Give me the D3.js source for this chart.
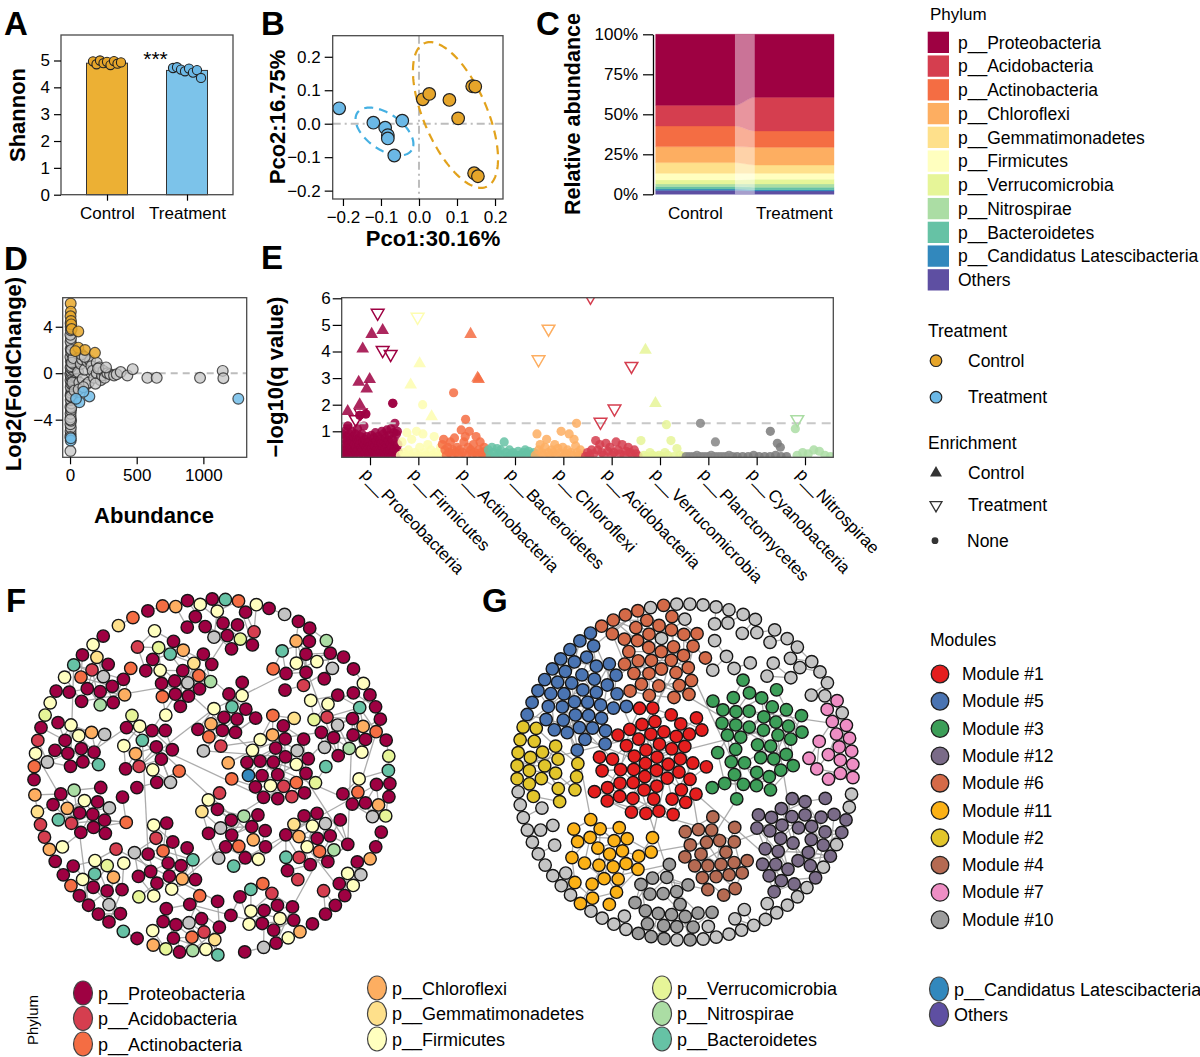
<!DOCTYPE html>
<html>
<head>
<meta charset="utf-8">
<script src="https://cdn.jsdelivr.net/npm/d3@7/dist/d3.min.js"></script>
<style>
  body { margin: 0; background: #fff; }
</style>
</head>
<body>
<svg id="fig" width="1200" height="1057"></svg>
<script>
// ---------------- data ----------------
var groups = ["Control", "Treatment"];
var phyla = ["p__Proteobacteria", "p__Acidobacteria", "p__Actinobacteria", "p__Chloroflexi",
  "p__Gemmatimonadetes", "p__Firmicutes", "p__Verrucomicrobia", "p__Nitrospirae",
  "p__Bacteroidetes", "p__Candidatus Latescibacteria", "Others"];

// A: Shannon index
var shannonMean = [4.9, 4.63];
var shannonControl = [4.97, 4.86, 5.0, 4.9, 4.95, 4.83, 4.98, 4.88, 4.93];
var shannonTreatment = [4.72, 4.75, 4.66, 4.6, 4.7, 4.55, 4.64, 4.35];

// B: PCoA scores
var pcoControl = [[0.01, 0.073], [0.027, 0.089], [0.08, 0.071], [0.103, 0.016],
  [0.14, 0.112], [0.148, 0.111], [0.145, -0.148], [0.155, -0.157]];
var pcoTreatment = [[-0.21, 0.046], [-0.12, 0.003], [-0.089, -0.012], [-0.082, -0.034],
  [-0.082, -0.044], [-0.065, -0.095], [-0.044, 0.009]];
// confidence ellipses: centre and the two semi-axis vectors (data units)
var ellipseControl = {c: [0.096, 0.026], a: [-0.0816, 0.2146], b: [0.0766, 0.0373]};
var ellipseTreatment = {c: [-0.0908, -0.0233], a: [0.0711, -0.0564], b: [-0.0271, -0.0439]};

// C: relative abundance (%), same order as phyla
var compControl = [44.4, 12.9, 12.9, 10.0, 6.7, 4.1, 2.5, 1.7, 1.5, 0.8, 2.5];
var compTreatment = [39.4, 21.0, 10.2, 11.1, 5.2, 3.7, 2.9, 2.1, 1.5, 0.8, 2.1];

// D: MA plot [abundance, log2FC]
var maControl = [[5, 6.0], [6, 5.3], [4, 4.9], [7, 4.5], [9, 4.2], [12, 3.8], [62, 3.6], [62, 2.2], [112, 2.0], [187, 1.75], [40, 1.9]];
var maTreatment = [[5, -5.8], [6, -5.6], [70, -2.5], [145, -2.0], [100, -1.6], [45, -2.2], [1262, -2.2]];
var maNone = [[3, -6.7], [5, -5.3], [4, -5.0], [6, -4.7], [3, -4.4], [8, -4.1], [5, -3.8], [4, -3.5], [7, -3.2],
  [3, -2.9], [10, -2.6], [5, -2.3], [15, -2.1], [4, -1.9], [8, -1.7], [12, -1.5], [20, -1.3], [5, -1.2],
  [25, -1.0], [9, -0.9], [30, -0.7], [4, -0.6], [15, -0.5], [40, -0.4], [7, -0.3], [22, -0.2], [3, -0.1],
  [12, 0.0], [35, 0.1], [6, 0.2], [18, 0.3], [45, 0.4], [4, 0.5], [10, 0.6], [28, 0.8], [6, 1.0], [14, 1.2],
  [3, 1.4], [20, 1.6], [8, 1.8], [5, 2.1], [12, 2.4], [4, 2.7], [7, 3.0], [3, 3.3], [6, 3.7], [5, 4.0],
  [4, 4.3], [9, -3.0], [6, -2.0], [18, -0.8], [14, 0.9], [25, 1.3], [33, -1.5], [10, 2.0], [2, -4.0], [2, -5.5],
  [60, 0.1], [70, -0.8], [80, 0.8], [90, 1.2], [95, -0.5], [110, 0.3], [120, -1.0], [130, 1.0], [140, -0.8],
  [150, 1.1], [160, 0.6], [170, 0.2], [180, -0.4], [200, 0.9], [200, 0.0], [220, 0.5], [230, -0.6], [240, -0.2],
  [250, 0.2], [260, -0.4], [280, 0.0], [300, -0.1], [330, -0.2], [350, -0.1], [380, 0.1], [430, -0.2],
  [470, 0.35], [580, -0.4], [650, -0.4], [975, -0.4], [1145, 0.2], [1150, -0.43], [65, -1.4], [100, -1.2],
  [85, 1.6], [110, 1.4], [190, -0.9], [210, 0.4], [270, 0.5]];

// E: differential abundance, -log10(q) by OTU rank
var daPhyla = ["p__Proteobacteria", "p__Firmicutes", "p__Actinobacteria", "p__Bacteroidetes", "p__Chloroflexi",
  "p__Acidobacteria", "p__Verrucomicrobia", "p__Planctomycetes", "p__Cyanobacteria", "p__Nitrospirae"];
var daSpans = [[0, 57], [58, 103], [100, 146], [146, 195], [193, 243], [243, 298], [298, 343], [343, 393], [393, 448], [453, 492]];
var daSig = [
  [0, 36, 5.45, "Treatment"], [0, 41, 4.8, "Control"], [0, 30, 4.65, "Control"], [0, 21, 4.1, "Control"],
  [0, 41, 4.05, "Treatment"], [0, 49, 3.9, "Treatment"], [0, 28, 2.95, "Control"], [0, 17, 2.85, "Control"],
  [0, 25, 2.6, "Control"], [0, 18, 2.0, "Control"], [0, 6, 1.75, "Control"], [0, 19, 1.7, "Treatment"],
  [0, 14, 1.45, "Treatment"], [0, 51, 2.05, "None"], [0, 18, 1.6, "None"], [0, 24, 1.65, "None"], [0, 6, 1.2, "None"],
  [1, 76, 5.3, "Treatment"], [1, 78, 3.55, "Control"], [1, 69, 2.75, "Control"], [1, 90, 1.55, "Control"], [1, 81, 2.0, "None"],
  [2, 129, 4.65, "Control"], [2, 136, 3.0, "Control"], [2, 137, 2.95, "Control"], [2, 112, 2.45, "None"], [2, 124, 1.45, "None"],
  [4, 207, 4.85, "Treatment"], [4, 197, 3.7, "Treatment"], [4, 235, 1.3, "None"],
  [5, 249, 6.05, "Treatment"], [5, 290, 3.45, "Treatment"], [5, 273, 1.85, "Treatment"], [5, 259, 1.35, "Treatment"],
  [6, 304, 4.05, "Control"], [6, 314, 2.05, "Control"], [6, 325, 1.25, "None"],
  [7, 359, 1.3, "None"], [7, 374, 0.6, "None"],
  [8, 429, 1.0, "None"], [8, 436, 0.55, "None"], [8, 439, 0.4, "None"],
  [9, 456, 1.45, "Treatment"], [9, 454, 1.1, "None"]];
var bgProteobacteria = [0.3, 0.9, 0.1, 0.5, 0.2, 0.7, 1.0, 0.4, 0.1, 0.8, 0.3, 0.6, 1.2, 0.2, 0.5, 0.9, 0.1, 0.4, 0.7, 0.3,
  1.0, 0.2, 0.6, 0.8, 0.1, 0.5, 0.3, 0.9, 0.4, 0.2, 0.7, 1.1, 0.3, 0.6, 0.1, 0.5, 1.6, 0.8, 0.2, 0.4, 0.9, 0.3, 0.6,
  0.1, 1.2, 0.5, 0.7, 0.2, 1.65, 0.4, 0.8, 0.3, 0.6, 0.1, 0.05, 0.6, 0.2, 0.45, 0.15, 0.85, 0.35, 0.05, 0.55, 0.25,
  0.75, 0.1, 0.45, 0.95, 0.2, 0.65, 0.05, 0.35, 0.8, 0.15, 0.5, 0.3, 0.05, 0.7, 0.25, 0.55, 1.0, 0.1, 0.4, 0.9, 0.2,
  0.6, 0.05, 0.35, 0.75, 0.15, 1.05, 0.45, 0.25, 0.65, 0.1, 0.85, 0.3, 0.5, 1.1, 0.05, 0.4, 0.7, 2.05, 0.2, 0.95,
  0.35, 1.3, 0.1, 0.6, 0.9, 0.3, 1.0, 0.5, 0.2];
var bgFirmicutes = [0.1, 0.6, 0.2, 0.05, 0.95, 0.3, 0.1, 0.7, 0.05, 0.2, 1.0, 0.1, 0.4, 0.05, 0.9, 0.2, 0.1, 0.5, 0.05, 0.3, 0.1, 0.8, 0.2, 0.05, 0.1, 0.4, 0.05, 0.2];
var bgActinobacteria = [0.5, 0.7, 0.3, 0.1, 0.4, 0.2, 0.6, 0.1, 0.3, 0.75, 0.2, 0.4, 0.1, 0.3, 1.05, 0.2, 0.6, 0.8, 0.1, 0.4, 1.0, 0.3, 0.15, 0.5, 0.2, 0.8, 0.1, 0.3, 0.6, 0.2, 0.1, 0.4, 0.25, 0.1];
var bgBacteroidetes = [0.3, 0.1, 0.4, 0.2, 0.05, 0.35, 0.15, 0.3, 0.1, 0.6, 0.2, 0.05, 0.3, 0.1, 0.2, 0.05, 0.1, 0.25, 0.1, 0.05, 0.2, 0.3, 0.15, 0.25, 0.1, 0.05, 0.2, 0.1];
var bgChloroflexi = [0.1, 0.9, 0.3, 0.5, 0.2, 0.1, 0.4, 0.7, 0.2, 0.1, 0.3, 0.2, 0.5, 0.1, 0.35, 0.2, 1.0, 0.4, 0.1, 0.15, 0.3, 0.9, 0.2, 0.1, 0.7, 0.45, 0.2, 0.1, 0.3, 0.1, 0.05];
var bgAcidobacteria = [0.05, 0.2, 0.1, 0.3, 0.15, 0.65, 0.3, 0.5, 0.2, 0.1, 0.55, 0.25, 0.4, 0.1, 0.2, 0.6, 0.3, 0.15, 0.5, 0.1, 0.25, 0.4, 0.2, 0.1, 0.3, 0.15, 0.05];
var bgVerrucomicrobia = [0.65, 0.1, 0.05, 0.2, 0.1, 0.05, 0.1, 0.05, 0.2, 0.1, 0.65, 0.05, 0.35, 0.1, 0.05];
var bgPlanctomycetes = [0.05, 0.05, 0.05, 0.1, 0.05, 0.05, 0.05, 0.1, 0.05, 0.05, 0.05, 0.05, 0.1, 0.05];
var bgCyanobacteria = [0.05, 0.05, 0.05, 0.1, 0.05, 0.05, 0.05, 0.1, 0.05, 0.05];
var bgNitrospirae = [0.1, 0.2, 0.15, 0.3, 0.25, 0.1, 0.05];
var daBackground = [bgProteobacteria, bgFirmicutes, bgActinobacteria, bgBacteroidetes, bgChloroflexi,
  bgAcidobacteria, bgVerrucomicrobia, bgPlanctomycetes, bgCyanobacteria, bgNitrospirae];

// F: co-occurrence network, node counts by phylum (+ unassigned) and component sizes
var netFCounts = [190, 21, 24, 21, 8, 48, 11, 8, 18, 1, 0, 22];
var netFClusterSizes = [20, 20, 20, 22, 18, 20, 18, 20, 20, 32, 22, 16, 24, 18, 20, 12, 10, 16, 2, 2, 2, 2, 2, 2, 2, 2, 2, 2, 2, 2];
var netFCross = [[0, 12], [12, 17], [17, 9], [9, 10], [10, 11], [9, 14], [14, 16], [8, 9], [8, 7], [7, 5], [5, 6],
  [6, 14], [13, 2], [13, 17], [3, 4], [4, 5], [1, 2], [1, 12], [13, 8], [8, 15], [10, 15], [9, 13], [17, 11],
  [9, 12], [10, 17], [14, 8], [7, 13], [2, 3], [9, 15], [10, 14], [12, 13]];

// G: modules
var moduleNames = ["Module #1", "Module #5", "Module #3", "Module #12", "Module #6", "Module #11", "Module #2", "Module #4", "Module #7", "Module #10"];
var moduleSizes = [55, 46, 44, 36, 40, 28, 22, 24, 17, 24];
var minorModuleSizes = [2, 2, 2, 3, 2, 2, 2, 3, 2, 2, 2, 2, 3, 2, 3, 2, 3, 3, 2, 3, 2, 2, 2, 2, 3, 2, 3, 2, 2, 2, 2, 2];
var netGCross = [[0, 1], [0, 2], [0, 4], [0, 5], [0, 6], [0, 7], [1, 4], [1, 6], [1, 5], [2, 4], [2, 3], [3, 7],
  [5, 9], [7, 9], [2, 8], [0, 3], [0, 9], [1, 0], [4, 2], [5, 7], [0, 4], [1, 6], [0, 7], [2, 7], [0, 1], [4, 1]];

// ---------------- styles / layout ----------------
var FONT = "'Liberation Sans', Arial, Helvetica, sans-serif";
var groupFill = ["#ecb034", "#7cc3ea"];
var groupDot = ["#e6a52a", "#6bb8e6"];
var ellipseStroke = ["#e2a21c", "#45b0e2"];
var phylumColors = ["#9e0142", "#d53e4f", "#f46d43", "#fdae61", "#fee08b", "#ffffbf", "#e6f598", "#abdda4", "#66c2a5", "#3288bd", "#5e4fa2", "#c4c4c4"];
var daColors = ["#9e0142", "#fdfdb0", "#f46d43", "#66c2a5", "#fdae61", "#d53e4f", "#e6f598", "#858585", "#7a7a7a", "#abdda4"];
var moduleColors = ["#e41e1e", "#4a74b2", "#3c9e58", "#7a6b88", "#d46a48", "#fbb116", "#e2c52b", "#b56a52", "#ee8ec4", "#9c9c9c"];
var minorColor = "#c4c4c4";

var svg = d3.select("#fig").attr("font-family", FONT);

function txt(s, x, y, size, opt) {
  opt = opt || {};
  var t = svg.append("text").attr("font-size", size).attr("fill", "#000").text(s);
  if (opt.rot) t.attr("transform", "translate(" + x + "," + y + ") rotate(" + opt.rot + ")");
  else t.attr("x", x).attr("y", y);
  if (opt.bold) t.attr("font-weight", "bold");
  if (opt.anchor) t.attr("text-anchor", opt.anchor);
  return t;
}
function styleAxis(g, size) {
  g.attr("font-family", FONT).attr("font-size", size);
  g.selectAll(".tick line").attr("stroke", "#000").attr("stroke-width", 1.2);
  g.selectAll(".tick text").attr("fill", "#000");
  return g;
}
function frame(x0, y0, x1, y1) {
  svg.append("rect").attr("x", x0).attr("y", y0).attr("width", x1 - x0).attr("height", y1 - y0)
    .attr("fill", "none").attr("stroke", "#4a4a4a").attr("stroke-width", 1.3);
}

// panel letters
[["A", 4, 35], ["B", 261, 35], ["C", 536, 35], ["D", 4, 270], ["E", 261, 269], ["F", 6, 612], ["G", 482, 612]].forEach(function(p) {
  txt(p[0], p[1], p[2], 33, {bold: true});
});

// ---------------- A ----------------
var xA = d3.scalePoint().domain(groups).range([61, 233]).padding(0.575);
var yA = d3.scaleLinear().domain([0, 5.95]).range([194.7, 35]);
svg.append("g").selectAll("rect").data(groups).enter().append("rect")
  .attr("x", function(d) { return xA(d) - 20.5; })
  .attr("width", 41)
  .attr("y", function(d, i) { return yA(shannonMean[i]); })
  .attr("height", function(d, i) { return yA(0) - yA(shannonMean[i]); })
  .attr("fill", function(d, i) { return groupFill[i]; })
  .attr("stroke", "#333").attr("stroke-width", 1);
[shannonControl, shannonTreatment].forEach(function(vals, gi) {
  svg.append("g").selectAll("circle").data(vals).enter().append("circle")
    .attr("cx", function(d, i) { return xA(groups[gi]) + (i / (vals.length - 1) - 0.5) * 28; })
    .attr("cy", function(d) { return yA(d); })
    .attr("r", 4.6)
    .attr("fill", groupDot[gi]).attr("stroke", "#222").attr("stroke-width", 1.1);
});
frame(61, 35, 233, 194.7);
styleAxis(svg.append("g").attr("transform", "translate(61,0)")
  .call(d3.axisLeft(yA).tickValues([0, 1, 2, 3, 4, 5]).tickFormat(d3.format("d")).tickSize(7).tickSizeOuter(0).tickPadding(4)), 17)
  .select(".domain").remove();
styleAxis(svg.append("g").attr("transform", "translate(0,194.7)")
  .call(d3.axisBottom(xA).tickSize(6).tickSizeOuter(0).tickPadding(6)), 17)
  .select(".domain").remove();
txt("***", 155.5, 66, 21, {anchor: "middle"});
txt("Shannon", 25, 115, 22, {bold: true, rot: -90, anchor: "middle"});

// ---------------- B ----------------
var xB = d3.scaleLinear().domain([-0.227, 0.221]).range([332.7, 503]);
var yB = d3.scaleLinear().domain([-0.225, 0.263]).range([199, 35.7]);
svg.append("line").attr("x1", xB(0)).attr("x2", xB(0)).attr("y1", 35.7).attr("y2", 199)
  .attr("stroke", "#bdbdbd").attr("stroke-width", 2).attr("stroke-dasharray", "8,4,2,4");
svg.append("line").attr("x1", 332.7).attr("x2", 503).attr("y1", yB(0)).attr("y2", yB(0))
  .attr("stroke", "#bdbdbd").attr("stroke-width", 2).attr("stroke-dasharray", "8,4,2,4");
var ellT = d3.range(0, 2 * Math.PI + 0.001, Math.PI / 72);
[ellipseControl, ellipseTreatment].forEach(function(e, gi) {
  var line = d3.line()
    .x(function(t) { return xB(e.c[0] + Math.cos(t) * e.a[0] + Math.sin(t) * e.b[0]); })
    .y(function(t) { return yB(e.c[1] + Math.cos(t) * e.a[1] + Math.sin(t) * e.b[1]); });
  svg.append("path").attr("d", line(ellT)).attr("fill", "none")
    .attr("stroke", ellipseStroke[gi]).attr("stroke-width", 2.2).attr("stroke-dasharray", "9,6");
});
[pcoControl, pcoTreatment].forEach(function(pts, gi) {
  svg.append("g").selectAll("circle").data(pts).enter().append("circle")
    .attr("cx", function(d) { return xB(d[0]); })
    .attr("cy", function(d) { return yB(d[1]); })
    .attr("r", 6.3)
    .attr("fill", groupDot[gi]).attr("stroke", "#222").attr("stroke-width", 1.2);
});
frame(332.7, 35.7, 503, 199);
styleAxis(svg.append("g").attr("transform", "translate(332.7,0)")
  .call(d3.axisLeft(yB).tickValues([-0.2, -0.1, 0, 0.1, 0.2]).tickFormat(d3.format(".1f")).tickSize(8).tickSizeOuter(0).tickPadding(4)), 17)
  .select(".domain").remove();
styleAxis(svg.append("g").attr("transform", "translate(0,199)")
  .call(d3.axisBottom(xB).tickValues([-0.2, -0.1, 0, 0.1, 0.2]).tickFormat(d3.format(".1f")).tickSize(7).tickSizeOuter(0).tickPadding(5)), 17)
  .select(".domain").remove();
txt("Pco2:16.75%", 285, 117, 22, {bold: true, rot: -90, anchor: "middle"});
txt("Pco1:30.16%", 433, 246, 22, {bold: true, anchor: "middle"});

// ---------------- C ----------------
var rowsC = groups.map(function(g, gi) {
  var o = {group: g};
  phyla.forEach(function(p, pi) { o[p] = (gi === 0 ? compControl : compTreatment)[pi] / 100; });
  return o;
});
var stackC = d3.stack().keys(phyla.slice().reverse())(rowsC);
var xC = d3.scaleBand().domain(groups).range([655.7, 834]).paddingInner(0.2).paddingOuter(0);
var yC = d3.scaleLinear().domain([0, 1]).range([194.3, 34.3]);
var areaC = d3.area().x(function(d) { return d.x; })
  .y0(function(d) { return yC(d.y0); }).y1(function(d) { return yC(d.y1); })
  .curve(d3.curveMonotoneX);
stackC.forEach(function(layer) {
  var pts = [];
  layer.forEach(function(seg, gi) {
    var x0 = xC(groups[gi]);
    pts.push({x: x0, y0: seg[0], y1: seg[1]});
    pts.push({x: x0 + xC.bandwidth(), y0: seg[0], y1: seg[1]});
  });
  var col = phylumColors[phyla.indexOf(layer.key)];
  svg.append("path").attr("d", areaC(pts)).attr("fill", col).attr("stroke", col).attr("stroke-width", 0.4);
});
svg.append("rect").attr("x", xC("Control") + xC.bandwidth()).attr("y", 34.3)
  .attr("width", xC("Treatment") - xC("Control") - xC.bandwidth()).attr("height", 160)
  .attr("fill", "#fff").attr("opacity", 0.45);
var axC = styleAxis(svg.append("g").attr("transform", "translate(653,0)")
  .call(d3.axisLeft(yC).tickValues([0, 0.25, 0.5, 0.75, 1]).tickFormat(d3.format(".0%")).tickSize(10).tickSizeOuter(0).tickPadding(5)), 17);
axC.select(".domain").attr("stroke", "#000").attr("stroke-width", 1.3);
var axC2 = styleAxis(svg.append("g").attr("transform", "translate(0,194.3)")
  .call(d3.axisBottom(xC).tickSize(0).tickPadding(13)), 17);
axC2.select(".domain").remove();
txt("Relative abundance", 580, 114, 21.5, {bold: true, rot: -90, anchor: "middle"});

// ---------------- legend: Phylum squares ----------------
txt("Phylum", 930, 20, 17);
phyla.forEach(function(p, i) {
  var y = 31.7 + 23.75 * i;
  svg.append("rect").attr("x", 927.7).attr("y", y).attr("width", 21.3).attr("height", 21.3).attr("fill", phylumColors[i]);
  txt(p, 958, y + 17, 17.5);
});

// legend: Treatment / Enrichment
txt("Treatment", 928, 337, 17.5);
groups.forEach(function(g, i) {
  var y = 360.7 + 36.5 * i;
  svg.append("circle").attr("cx", 936).attr("cy", y).attr("r", 5.8).attr("fill", groupDot[i]).attr("stroke", "#222").attr("stroke-width", 1.2);
  txt(g, 968, y + 6, 17.5);
});
txt("Enrichment", 928, 449, 17.5);
var triSym = d3.symbol().type(d3.symbolTriangle).size(62);
svg.append("path").attr("d", triSym()).attr("transform", "translate(936,473)").attr("fill", "#333");
txt("Control", 968, 479, 17.5);
svg.append("path").attr("d", triSym()).attr("transform", "translate(936,505) rotate(180)").attr("fill", "none").attr("stroke", "#333").attr("stroke-width", 1.3);
txt("Treatment", 968, 511, 17.5);
svg.append("circle").attr("cx", 935).attr("cy", 540.7).attr("r", 3.4).attr("fill", "#333");
txt("None", 967, 547, 17.5);

// ---------------- D ----------------
var xD = d3.scaleLinear().domain([-55, 1325]).range([62.7, 246.7]);
var yD = d3.scaleLinear().domain([-7.24, 6.5]).range([457.3, 297.7]);
svg.append("line").attr("x1", 62.7).attr("x2", 246.7).attr("y1", yD(0)).attr("y2", yD(0))
  .attr("stroke", "#bdbdbd").attr("stroke-width", 2).attr("stroke-dasharray", "7,5");
[[maNone, "#c4c4c4", 0.75], [maControl, "#e9a82a", 0.85], [maTreatment, "#72bde9", 0.85]].forEach(function(s) {
  svg.append("g").selectAll("circle").data(s[0]).enter().append("circle")
    .attr("cx", function(d) { return xD(d[0]); })
    .attr("cy", function(d) { return yD(d[1]); })
    .attr("r", 5.4).attr("fill", s[1]).attr("fill-opacity", s[2])
    .attr("stroke", "#2a2a2a").attr("stroke-opacity", 0.8).attr("stroke-width", 1.2);
});
frame(62.7, 297.7, 246.7, 457.3);
styleAxis(svg.append("g").attr("transform", "translate(62.7,0)")
  .call(d3.axisLeft(yD).tickValues([-4, 0, 4]).tickFormat(d3.format("d")).tickSize(7).tickSizeOuter(0).tickPadding(3)), 17)
  .select(".domain").remove();
styleAxis(svg.append("g").attr("transform", "translate(0,457.3)")
  .call(d3.axisBottom(xD).tickValues([0, 500, 1000]).tickFormat(d3.format("d")).tickSize(7).tickSizeOuter(0).tickPadding(5)), 17)
  .select(".domain").remove();
txt("Log2(FoldChange)", 21, 374, 22, {bold: true, rot: -90, anchor: "middle"});
txt("Abundance", 154, 523, 22, {bold: true, anchor: "middle"});

// ---------------- E ----------------
var xE = d3.scaleLinear().domain([0, 492]).range([341.7, 833.3]);
var yE = d3.scaleLinear().domain([0, 6]).range([457.9, 298.3]);
var xETicks = d3.scalePoint().domain(daPhyla).range([370, 805]);
svg.append("clipPath").attr("id", "clipE").append("rect").attr("x", 341.7).attr("y", 297.7).attr("width", 491.6).attr("height", 159.6);
var gE = svg.append("g").attr("clip-path", "url(#clipE)");
daBackground.forEach(function(vals, pi) {
  var sp = daSpans[pi];
  gE.append("g").selectAll("circle").data(vals).enter().append("circle")
    .attr("cx", function(d, j) { return xE(sp[0] + (j + 0.5) / vals.length * (sp[1] - sp[0])); })
    .attr("cy", function(d) { return yE(d); })
    .attr("r", 4.6).attr("fill", daColors[pi]).attr("fill-opacity", 0.85);
});
gE.append("line").attr("x1", 341.7).attr("x2", 833.3).attr("y1", yE(-Math.log10(0.05))).attr("y2", yE(-Math.log10(0.05)))
  .attr("stroke", "#c8c8c8").attr("stroke-width", 2).attr("stroke-dasharray", "9,6");
var triE = d3.symbol().type(d3.symbolTriangle).size(70);
daSig.forEach(function(d) {
  var x = xE(d[1]), y = yE(d[2]), col = daColors[d[0]];
  if (d[3] === "None") {
    gE.append("circle").attr("cx", x).attr("cy", y).attr("r", 4.6).attr("fill", col).attr("fill-opacity", 0.85);
  } else if (d[3] === "Control") {
    gE.append("path").attr("d", triE()).attr("transform", "translate(" + x + "," + y + ")").attr("fill", col).attr("fill-opacity", 0.85);
  } else {
    gE.append("path").attr("d", triE()).attr("transform", "translate(" + x + "," + y + ") rotate(180)")
      .attr("fill", "none").attr("stroke", col).attr("stroke-width", 1.5);
  }
});
frame(341.7, 297.7, 833.3, 457.3);
styleAxis(svg.append("g").attr("transform", "translate(341.7,0)")
  .call(d3.axisLeft(yE).tickValues([1, 2, 3, 4, 5, 6]).tickFormat(d3.format("d")).tickSize(9).tickSizeOuter(0).tickPadding(2)), 17)
  .select(".domain").remove();
var axE = styleAxis(svg.append("g").attr("transform", "translate(0,457.3)")
  .call(d3.axisBottom(xETicks).tickSize(8).tickSizeOuter(0)), 17);
axE.select(".domain").remove();
axE.selectAll(".tick text").attr("x", 0).attr("y", 0).attr("dy", null)
  .attr("transform", "translate(-10,18) rotate(46)").style("text-anchor", "start");
txt("\u2212log10(q value)", 283, 377, 22, {bold: true, rot: -90, anchor: "middle"});

// minus signs
svg.selectAll(".tick text").filter(function() { return this.textContent.indexOf("-") === 0; })
  .text(function() { return this.textContent.replace("-", "\u2212"); });

// ---------------- networks ----------------
function boundForce(cx, cy, R) {
  var nodes;
  function force() {
    for (var i = 0; i < nodes.length; i++) {
      var n = nodes[i], dx = n.x - cx, dy = n.y - cy, d = Math.sqrt(dx * dx + dy * dy);
      if (d > R) { n.x = cx + dx * R / d; n.y = cy + dy * R / d; n.vx *= 0.5; n.vy *= 0.5; }
    }
  }
  force.initialize = function(n) { nodes = n; };
  return force;
}
function buildNetwork(sizes, anchors, cx, cy, cross) {
  var nodes = [], links = [], starts = [];
  sizes.forEach(function(n, c) {
    var s = nodes.length;
    starts.push(s);
    for (var k = 0; k < n; k++) {
      var ang = k * 2.39996, rr = 6 * Math.sqrt(k);
      nodes.push({c: c, ax: cx + anchors[c][0], ay: cy + anchors[c][1],
        x: cx + anchors[c][0] + rr * Math.cos(ang), y: cy + anchors[c][1] + rr * Math.sin(ang)});
      if (k > 0) links.push({source: s + k, target: s + Math.floor((k - 1) / 2), local: true});
      if (k > 5 && k % 4 === 0) links.push({source: s + k, target: s + k - 5, local: true});
    }
  });
  cross.forEach(function(p, i) {
    var a = starts[p[0]] + (i * 7) % sizes[p[0]], b = starts[p[1]] + (i * 5 + 3) % sizes[p[1]];
    links.push({source: a, target: b, local: false});
  });
  return {nodes: nodes, links: links};
}
function layoutNetwork(net, cx, cy, R, pull) {
  var sim = d3.forceSimulation(net.nodes)
    .force("link", d3.forceLink(net.links)
      .distance(function(l) { return l.local ? 23 : 90; })
      .strength(function(l) { return l.local ? 0.35 : 0.004; }))
    .force("charge", d3.forceManyBody().strength(-14).distanceMax(55))
    .force("x", d3.forceX(function(d) { return d.ax; }).strength(pull))
    .force("y", d3.forceY(function(d) { return d.ay; }).strength(pull))
    .force("collide", d3.forceCollide(6.6).iterations(2))
    .force("bound", boundForce(cx, cy, R))
    .stop();
  for (var i = 0; i < 320; i++) sim.tick();
}
function drawNetwork(net, colorOf) {
  var g = svg.append("g");
  g.append("g").selectAll("line").data(net.links).enter().append("line")
    .attr("x1", function(l) { return l.source.x; }).attr("y1", function(l) { return l.source.y; })
    .attr("x2", function(l) { return l.target.x; }).attr("y2", function(l) { return l.target.y; })
    .attr("stroke", "#a3a3a3").attr("stroke-width", 1.3).attr("stroke-opacity", 0.9);
  g.append("g").selectAll("circle").data(net.nodes).enter().append("circle")
    .attr("cx", function(d) { return d.x; }).attr("cy", function(d) { return d.y; })
    .attr("r", 6.2).attr("fill", colorOf).attr("stroke", "#161616").attr("stroke-width", 1.4);
}

// F layout anchors (offsets from the network centre)
var anchorsF = [[5, -155], [-115, -95], [-140, -30], [-135, 40], [-110, 100], [-30, 140], [60, 135], [-50, 100], [40, 50],
  [70, -15], [125, -55], [110, -110], [-30, -105], [-70, -35], [100, 60], [160, 15], [140, 105], [15, -60],
  [-80, -140], [120, -140], [-160, -80], [170, -40], [165, 70], [80, 160], [-80, 160], [-165, 60], [40, -165],
  [-40, -160], [150, -95], [-150, 110]];
var netF = buildNetwork(netFClusterSizes, anchorsF, 212, 777, netFCross);
layoutNetwork(netF, 212, 777, 178, 0.05);
var slotsF = [];
netFCounts.forEach(function(c, p) { for (var j = 0; j < c; j++) slotsF.push({p: p, key: (j + 0.5) / c}); });
slotsF.sort(function(a, b) { return a.key - b.key || a.p - b.p; });
drawNetwork(netF, function(d, i) { return phylumColors[slotsF[i].p]; });

// G layout anchors
var anchorsG = [[-40, -20], [-105, -72], [75, -32], [115, 78], [-40, -112], [-75, 108], [-150, -32], [35, 108], [150, -37], [-20, 143]];
var minorPlaces = [[-100, 160], [-92, 160], [-84, 160], [-76, 160], [-68, 160], [-60, 160], [-52, 160], [-44, 160], [-36, 160],
  [-28, 160], [-20, 160], [-110, 125], [-88, 125], [-64, 125], [-40, 125], [25, 155], [35, 150], [45, 155], [55, 150],
  [65, 155], [75, 160], [85, 160], [95, 160], [105, 160], [115, 155], [125, 150], [135, 155], [145, 150], [155, 155],
  [165, 160], [175, 160], [185, 160]];
minorPlaces.forEach(function(p) {
  var a = p[0] * Math.PI / 180;
  anchorsG.push([p[1] * Math.cos(a), p[1] * Math.sin(a)]);
});
var netG = buildNetwork(moduleSizes.concat(minorModuleSizes), anchorsG, 685, 772, netGCross);
layoutNetwork(netG, 685, 772, 168, 0.035);
drawNetwork(netG, function(d) { return d.c < moduleColors.length ? moduleColors[d.c] : minorColor; });

// legend: Modules
txt("Modules", 930, 646, 17.5);
moduleNames.forEach(function(m, i) {
  var y = 674 + 27.3 * i;
  svg.append("circle").attr("cx", 940).attr("cy", y).attr("r", 8.8).attr("fill", moduleColors[i]).attr("stroke", "#222").attr("stroke-width", 1.3);
  txt(m, 962, y + 6, 17.5);
});

// legend: bottom Phylum
txt("Phylum", 38, 1020, 15, {rot: -90, anchor: "middle"});
var colX = [83, 377, 662, 939], colY = [993, 988, 988, 989];
phyla.forEach(function(p, i) {
  var c = Math.floor(i / 3), r = i % 3, y = colY[c] + 25.5 * r;
  svg.append("ellipse").attr("cx", colX[c]).attr("cy", y).attr("rx", 9.5).attr("ry", 12)
    .attr("fill", phylumColors[i]).attr("stroke", "#444").attr("stroke-width", 1.2);
  txt(p, colX[c] + 15, y + 6.5, 18);
});
</script>
</body>
</html>
